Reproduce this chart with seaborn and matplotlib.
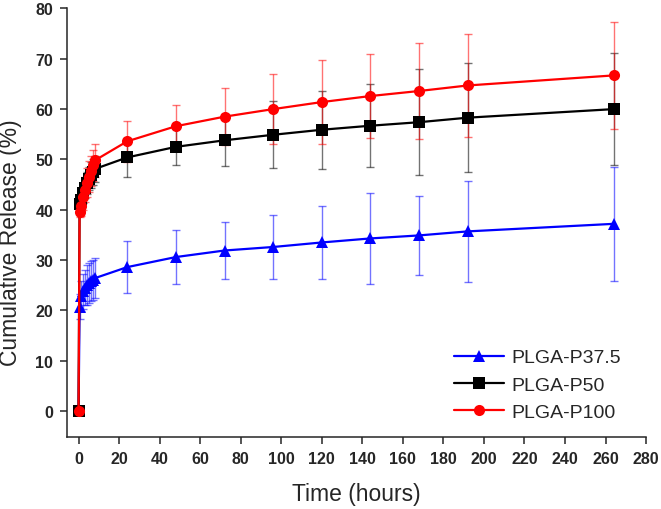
#!/usr/bin/env python3
"""Cumulative release of PLGA samples over time, with error bars."""

import numpy as np
import pandas as pd
import matplotlib
matplotlib.use("Agg")
import matplotlib.pyplot as plt
import seaborn as sns

# ── data ────────────────────────────────────────────────────────────
time_h = [0, 0.5, 1, 2, 3, 4, 5, 6, 7, 8, 24, 48, 72, 96, 120, 144, 168, 192, 264]

p375 = [0, 20.7, 22.8, 23.8, 24.5, 25.0, 25.5, 25.8, 26.1, 26.4,
        28.6, 30.6, 31.9, 32.6, 33.5, 34.3, 34.9, 35.7, 37.2]
p375_err = [0, 2.5, 3.0, 3.5, 3.5, 4.0, 4.0, 4.0, 4.0, 4.0,
            5.2, 5.3, 5.6, 6.4, 7.2, 9.0, 7.9, 10.1, 11.3]

p50 = [0, 41.2, 42.0, 43.3, 44.4, 45.3, 46.2, 46.9, 47.5, 48.1,
       50.4, 52.5, 53.8, 54.9, 55.9, 56.7, 57.4, 58.3, 60.0]
p50_err = [0, 1.5, 1.8, 2.0, 2.0, 2.2, 2.3, 2.5, 2.5, 2.5,
           3.8, 3.7, 5.2, 6.7, 7.8, 8.2, 10.5, 10.8, 11.2]

p100 = [0, 39.5, 40.8, 42.5, 44.0, 45.4, 46.6, 47.7, 48.8, 49.8,
        53.6, 56.6, 58.5, 60.0, 61.4, 62.6, 63.6, 64.7, 66.7]
p100_err = [0, 1.0, 2.0, 2.5, 2.5, 2.8, 3.0, 3.0, 3.0, 3.2,
            4.1, 4.2, 5.7, 7.0, 8.3, 8.4, 9.5, 10.2, 10.6]

labels = ["PLGA-P37.5", "PLGA-P50", "PLGA-P100"]
colors = ["#0000ff", "#000000", "#ff0000"]
markers = ["^", "s", "o"]

df = pd.DataFrame({
    "time": time_h * 3,
    "release": p375 + p50 + p100,
    "err": p375_err + p50_err + p100_err,
    "sample": np.repeat(labels, len(time_h)),
})

# ── figure ──────────────────────────────────────────────────────────
sns.set_style("ticks")
plt.rcParams["font.family"] = ["Liberation Sans", "DejaVu Sans"]

fig = plt.figure(figsize=(6.61, 5.10), dpi=100)
ax = fig.add_axes([0.1014, 0.1418, 0.876, 0.8396])

for lab, col, mk in zip(labels, colors, markers):
    sub = df[df["sample"] == lab]
    ax.errorbar(sub["time"], sub["release"], yerr=sub["err"], fmt="none",
                ecolor=col, alpha=0.55, elinewidth=1.0, capsize=3,
                capthick=1.0, zorder=2)
    sns.lineplot(data=sub, x="time", y="release", ax=ax, color=col,
                 marker=mk, markersize=8, markeredgecolor=col,
                 markeredgewidth=0, linewidth=1.6, label=lab, zorder=3,
                 errorbar=None)

ax.set_xlim(-5.7, 280)
ax.set_ylim(-5.1, 80)
ax.set_xticks(np.arange(0, 281, 20))
ax.set_yticks(np.arange(0, 81, 10))
sns.despine(ax=ax)
for side in ["left", "bottom"]:
    ax.spines[side].set_linewidth(1.1)

ax.tick_params(axis="both", length=5, width=1.1, pad=5, labelsize=11.5)
for t in ax.get_xticklabels() + ax.get_yticklabels():
    t.set_fontweight("bold")

ax.set_xlabel("Time (hours)", fontsize=16.5, labelpad=12)
ax.set_ylabel("Cumulative Release (%)", fontsize=16.5)
ax.yaxis.set_label_coords(-0.077, 0.455)

ax.legend(loc="lower right", bbox_to_anchor=(0.983, 0.0), frameon=False,
          fontsize=14, handlelength=2.6, handletextpad=0.35,
          labelspacing=0.5, borderaxespad=0.4)

fig.savefig("out.png", dpi=100)
plt.close(fig)
